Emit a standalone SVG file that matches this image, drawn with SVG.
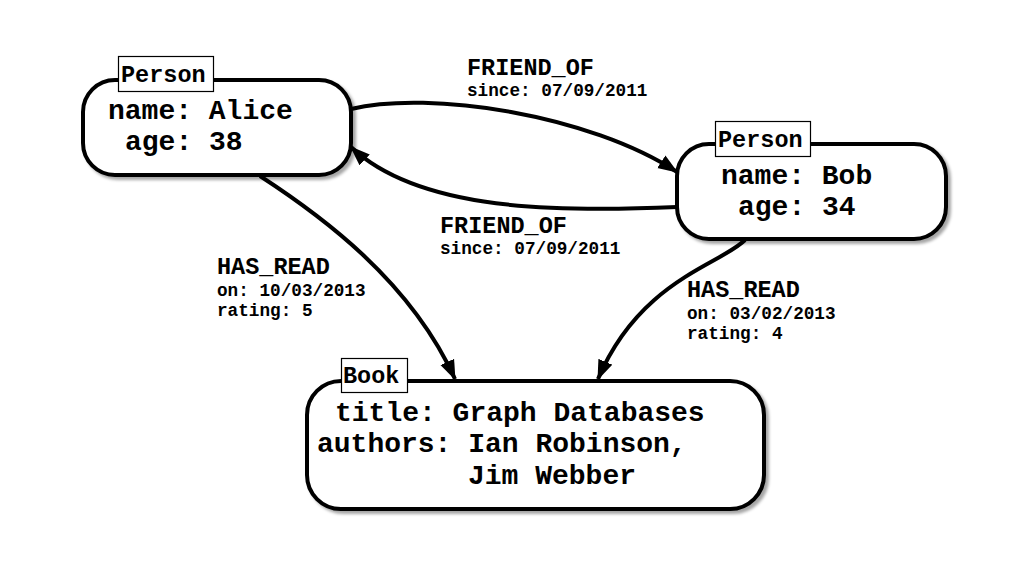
<svg xmlns="http://www.w3.org/2000/svg" width="1024" height="576" viewBox="0 0 1024 576">
<style>
.node{fill:#fff;stroke:#000;stroke-width:4;filter:url(#sh)}
.lbl{fill:#fff;stroke:#000;stroke-width:1.2}
.t{font-family:"Liberation Mono","Courier New",monospace;font-weight:bold;fill:#000}
.big{font-size:28px}
.tag{font-size:23.5px}
.el{font-size:23.5px}
.ep{font-size:17.7px}
.edge{fill:none;stroke:#000;stroke-width:4;marker-end:url(#ah)}
</style>
<defs>
<filter id="sh" x="-10%" y="-10%" width="130%" height="130%">
<feDropShadow dx="3" dy="3" stdDeviation="1.5" flood-color="#000" flood-opacity="0.35"/>
</filter>
<marker id="ah" markerUnits="userSpaceOnUse" markerWidth="20" markerHeight="16" refX="15" refY="6" orient="auto" viewBox="0 0 16 12">
<path d="M0,0 L16,6 L0,12 Z" fill="#000"/>
</marker>
</defs>
<rect width="1024" height="576" fill="#fff"/>
<g id="edges">
<path class="edge" d="M351,109 C 430,90 590,115 677,172"/>
<path class="edge" d="M677,207 C 560,212 420,212 351,147"/>
<path class="edge" d="M260,176 C 320,215 410,280 455,379"/>
<path class="edge" d="M745,240 C 720,265 640,280 598,379"/>
<text class="t el" x="467" y="75">FRIEND_OF</text>
<text class="t ep" x="467" y="96">since: 07/09/2011</text>
<text class="t el" x="440" y="233">FRIEND_OF</text>
<text class="t ep" x="440" y="254">since: 07/09/2011</text>
<text class="t el" x="217" y="274">HAS_READ</text>
<text class="t ep" x="217" y="296">on: 10/03/2013</text>
<text class="t ep" x="217" y="316">rating: 5</text>
<text class="t el" x="687" y="297">HAS_READ</text>
<text class="t ep" x="687" y="319">on: 03/02/2013</text>
<text class="t ep" x="687" y="339">rating: 4</text>
</g>
<g id="alice">
<rect class="node" x="83" y="80" width="268" height="95" rx="32"/>
<rect class="lbl" x="118.5" y="56.5" width="95" height="35"/>
<text class="t tag" x="121" y="82">Person</text>
<text class="t big" x="108" y="119">name: Alice</text>
<text class="t big" x="125" y="150">age: 38</text>
</g>
<g id="bob">
<rect class="node" x="677" y="144" width="269" height="95" rx="32"/>
<rect class="lbl" x="715.5" y="121.5" width="95" height="35"/>
<text class="t tag" x="718" y="147">Person</text>
<text class="t big" x="721" y="184">name: Bob</text>
<text class="t big" x="738" y="215">age: 34</text>
</g>
<g id="book">
<rect class="node" x="307" y="381" width="457" height="128" rx="34"/>
<rect class="lbl" x="341.5" y="358.5" width="66" height="34"/>
<text class="t tag" x="343" y="383">Book</text>
<text class="t big" x="335" y="421">title: Graph Databases</text>
<text class="t big" x="317" y="452">authors: Ian Robinson,</text>
<text class="t big" x="468" y="484">Jim Webber</text>
</g>
</svg>
